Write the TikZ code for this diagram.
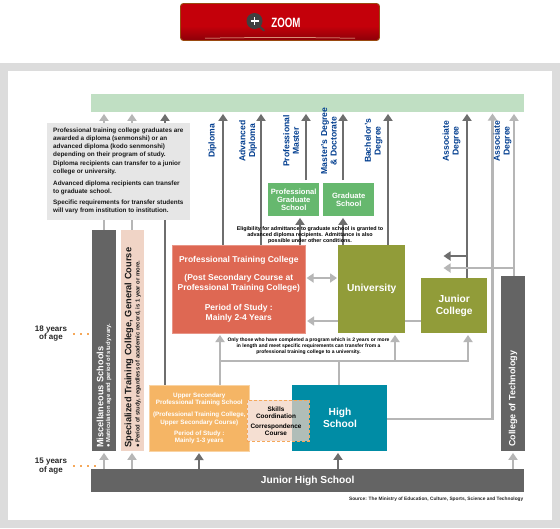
\documentclass[tikz,border=0pt]{standalone}
\usepackage{fontspec}
\usepackage{graphicx}
\setmainfont{Liberation Sans}
\usetikzlibrary{arrows.meta,backgrounds}
\definecolor{framegray}{HTML}{DCDCDC}
\definecolor{arrdark}{HTML}{6E6E6E}
\definecolor{arrlight}{HTML}{B6B6B6}
\definecolor{barmint}{HTML}{C0DFC3}
\definecolor{redbox}{HTML}{DE6853}
\definecolor{olive}{HTML}{919C39}
\definecolor{teal2}{HTML}{008CA5}
\definecolor{orangebox}{HTML}{F5B565}
\definecolor{peach}{HTML}{F0D4C6}
\definecolor{skillpeach}{HTML}{F5DFD2}
\definecolor{overlap}{HTML}{B0BDB8}
\definecolor{darkbar}{HTML}{646464}
\definecolor{greenbox}{HTML}{66B86E}
\definecolor{notegray}{HTML}{E6E6E6}
\definecolor{blue2}{HTML}{003D8F}
\definecolor{dotorange}{HTML}{F5A85A}
\definecolor{btnred}{HTML}{C4000A}
\definecolor{btndark}{HTML}{8E0008}
\definecolor{btnedge}{HTML}{9A4A10}
\pgfdeclarelayer{frame}
\pgfdeclarelayer{lines}
\pgfsetlayers{frame,lines,main}
\tikzset{
 box/.style={rectangle,anchor=north west,inner sep=0pt,align=center,font=\bfseries},
 arrD/.style={draw=arrdark,line width=2.4pt,-{Triangle[width=9pt,length=7pt]},shorten >=1.5pt},
 arrL/.style={draw=arrlight,line width=2.4pt,-{Triangle[width=9pt,length=7pt]},shorten >=1.5pt},
 arrLL/.style={draw=arrlight,line width=2.4pt,{Triangle[width=9pt,length=7pt]}-{Triangle[width=9pt,length=7pt]},shorten >=1pt,shorten <=1pt},
 lineL/.style={draw=arrlight,line width=2.4pt},
 deg/.style={rotate=90,text=blue2,align=center,inner sep=0pt,font=\fontsize{8.6}{9.6}\selectfont\bfseries},
 small/.style={align=center,inner sep=0pt,text=black,font=\fontsize{5.4}{6.2}\selectfont\bfseries},
 age/.style={align=center,inner sep=0pt,text=black!85,font=\fontsize{8}{8.6}\selectfont\bfseries},
 dots/.style={draw=dotorange,line width=1.6pt,dash pattern=on 1.6pt off 5.4pt},
}
\begin{document}
\begin{tikzpicture}[x=1pt,y=-1pt]
\useasboundingbox (0,0) rectangle (560,528);
% frame
\begin{pgfonlayer}{frame}
\fill[white] (0,0) rectangle (560,528);
\fill[framegray] (0,62.5) rectangle (560,528);
\fill[white] (8,70.5) rectangle (552,520);
\end{pgfonlayer}
% button
\fill[btnred,rounded corners=3pt] (180.5,3.5) rectangle (379.5,40.5);
\shade[top color=btnred,bottom color=btndark] (181.5,26) rectangle (378.5,39.8);
\draw[draw=btnedge,rounded corners=3pt,line width=.9pt] (180.5,3.5) rectangle (379.5,40.5);
\draw[white!70!orange,line width=.5pt] (205,38.2) .. controls (260,37.4) and (300,37.4) .. (355,38.2);
\draw[line width=2pt,draw=black!75,line cap=round] (258,25) -- (264,30.5);
\fill[black!75] (254.5,21) circle (8);
\draw[white,line width=1.3pt] (250.5,21) -- (258.5,21) (254.5,17) -- (254.5,25);
\node[inner sep=0pt,text=white] (zoomlabel) at (286,22.5) {\scalebox{.72}[1]{\fontsize{13.5}{14}\selectfont\bfseries ZOOM}};
% boxes
\node[box,fill=barmint,minimum width=432.5pt,minimum height=18pt] (top) at (91,94) {};
\node[box,fill=darkbar,minimum width=24pt,minimum height=221pt] (misc) at (92,230) {};
\node[box,fill=peach,minimum width=23pt,minimum height=221pt] (spec) at (121,230) {};
\node[box,fill=greenbox,text=white,minimum width=51pt,minimum height=33pt,font=\fontsize{7.6}{8.2}\selectfont\bfseries] (pgs) at (268,183) {Professional\\Graduate\\School};
\node[box,fill=greenbox,text=white,minimum width=51pt,minimum height=33pt,font=\fontsize{7.6}{8.2}\selectfont\bfseries] (gs) at (323,183) {Graduate\\School};
\node[box,fill=redbox,draw=redbox!70!white,line width=.6pt,text=white,minimum width=133pt,minimum height=88pt,font=\fontsize{8.5}{9.4}\selectfont\bfseries] (ptc) at (172,245) {Professional Training College\\[8.5pt](Post Secondary Course at\\Professional Training College)\\[11.5pt]Period of Study :\\Mainly 2-4 Years};
\node[box,fill=olive,text=white,minimum width=67pt,minimum height=88pt,font=\fontsize{10.2}{12}\selectfont\bfseries] (univ) at (338,245) {University};
\node[box,fill=olive,text=white,minimum width=66pt,minimum height=55pt,font=\fontsize{10.2}{11.5}\selectfont\bfseries] (jc) at (421,278) {Junior\\College};
\node[box,fill=darkbar,minimum width=24pt,minimum height=175pt] (coltech) at (501,276) {};
\node[box,fill=teal2,minimum width=95pt,minimum height=66pt] (hs) at (292,385) {};
\node[box,fill=orangebox,draw=orangebox!60!white,line width=.6pt,text=white,minimum width=100pt,minimum height=66pt,font=\fontsize{6.3}{7.3}\selectfont\bfseries] (usp) at (149,385) {Upper Secondary\\Professional Training School\\[4.8pt](Professional Training College,\\Upper Secondary Course)\\[3.8pt]Period of Study :\\Mainly 1-3 years};
\fill[skillpeach] (247,400) rectangle (292,441);
\fill[overlap] (292,400) rectangle (309,441);
\node[box,draw=dotorange,densely dashed,line width=.7pt,minimum width=62pt,minimum height=41pt] (skills) at (247,400) {};
\node[inner sep=0pt,align=center,text=black,font=\fontsize{6.4}{7.2}\selectfont\bfseries] (skilltext) at (276,421.5) {Skills\\Coordination\\[2.5pt]Correspondence\\Course};
\node[inner sep=0pt,text=white,align=center,font=\fontsize{10.2}{11.5}\selectfont\bfseries] (hslabel) at (340,418) {High\\School};
\node[box,fill=darkbar,minimum width=433pt,minimum height=23pt,text=white,font=\fontsize{10.2}{12}\selectfont\bfseries] (jhs) at (91,469) {Junior High School};
% note
\node[box,fill=notegray,minimum width=143pt,minimum height=97pt] (note) at (47,123) {};
\node[inner sep=0pt,anchor=north west,align=left,text=black!90,font=\fontsize{6.35}{8.2}\selectfont\bfseries] (notetext) at (53,127.5) {Professional training college graduates are\\awarded a diploma (senmonshi) or an\\advanced diploma (kodo senmonshi)\\depending on their program of study.\\Diploma recipients can transfer to a junior\\college or university.\\[3.6pt]Advanced diploma recipients can transfer\\to graduate school.\\[3.2pt]Specific requirements for transfer students\\will vary from institution to institution.};
% rotated labels
\node[deg] (l1) at (212.5,141) {Diploma};
\node[deg] (l2) at (248,141) {Advanced\\Diploma};
\node[deg] (l3) at (291,141) {Professional\\Master};
\node[deg] (l4) at (329,141) {Master's Degree\\\& Doctorate};
\node[deg] (l5) at (373.5,141) {Bachelor's\\Degree};
\node[deg] (l6) at (451.5,141) {Associate\\Degree};
\node[deg] (l7) at (502.5,141) {Associate\\Degree};
\node[rotate=90,anchor=west,inner sep=0pt,text=white,font=\fontsize{9.2}{11}\selectfont\bfseries] (mt1) at (100,448) {Miscellaneous Schools};
\node[rotate=90,anchor=west,inner sep=0pt,text=white,font=\fontsize{5.85}{6}\selectfont\bfseries] (mt2) at (108.5,448) {● Matriculation age and period of study vary.};
\node[rotate=90,anchor=west,inner sep=0pt,text=black!90,font=\fontsize{9.3}{11}\selectfont\bfseries] (st1) at (129,448) {Specialized Training College, General Course};
\node[rotate=90,anchor=west,inner sep=0pt,text=black!90,font=\fontsize{5.85}{6}\selectfont\bfseries] (st2) at (138,448) {● Period of study, regardless of academic record, is 1 year or more.};
\node[rotate=90,anchor=west,inner sep=0pt,text=white,font=\fontsize{9}{10}\selectfont\bfseries] (ct) at (513,447) {College of Technology};
% small texts
\node[small] (elig) at (310,235) {Eligibility for admittance to graduate school is granted to\\advanced diploma recipients. Admittance is also\\possible under other conditions.};
\node[small,font=\fontsize{5}{6.2}\selectfont\bfseries] (only) at (308.5,346) {Only those who have completed a program which is 2 years or more\\in length and meet specific requirements can transfer from a\\professional training college to a university.};
\node[anchor=east,inner sep=0pt,text=black!85,font=\fontsize{4.8}{5.5}\selectfont\bfseries] (source) at (523.5,499) {Source: The Ministry of Education, Culture, Sports, Science and Technology};
\node[age] (a18) at (51,333.5) {18 years\\of age};
\node[age] (a15) at (51,466) {15 years\\of age};
\coordinate (d18s) at (73,334);
\coordinate (d18e) at (90,334);
\coordinate (d15s) at (73,466);
\coordinate (d15e) at (97,466);
\draw[dots] (d18s) -- (d18e);
\draw[dots] (d15s) -- (d15e);
% connectors
\begin{pgfonlayer}{lines}
\draw[arrL] (104,0 |- misc.north) -- (104,0 |- top.south);
\draw[arrL] (132,0 |- spec.north) -- (132,0 |- top.south);
\draw[arrD] (165,0 |- usp.north) -- (165,0 |- top.south);
\draw[arrD] (223,0 |- ptc.north) -- (223,0 |- top.south);
\draw[arrD] (261,0 |- ptc.north) -- (261,0 |- top.south);
\draw[arrD] (306,180) -- (306,0 |- top.south);
\draw[arrD] (343,180) -- (343,0 |- top.south);
\draw[arrD] (388,0 |- univ.north) -- (388,0 |- top.south);
\draw[arrD] (467,0 |- jc.north) -- (467,0 |- top.south);
\draw[arrL] (hs.east |- 0,419) -| (492.5,112);
\draw[arrL] (514,0 |- coltech.north) -- (514,0 |- top.south);
\draw[arrD] (467,256) -- (442,256);
\draw[arrL] (514,268) -- (442,268);
\draw[arrD] (300,0 |- ptc.north) -- (300,0 |- pgs.south);
\draw[arrD] (343,0 |- univ.north) -- (343,0 |- gs.south);
\draw[arrLL] (ptc.east |- 0,278) -- (univ.west |- 0,278);
\draw[arrL] (jc.west |- 0,321) -- (ptc.east |- 0,321);
\draw[lineL] (220,361) -- (469.2,361);
\draw[lineL] (339,0 |- hs.north) -- (339,361);
\draw[arrL] (220,0 |- usp.north) -- (220,333.5);
\draw[arrL] (395,361) -- (395,333.5);
\draw[arrL] (468,362) -- (468,333.5);
\draw[arrL] (104,0 |- jhs.north) -- (104,0 |- misc.south);
\draw[arrL] (132,0 |- jhs.north) -- (132,0 |- spec.south);
\draw[arrD] (199,0 |- jhs.north) -- (199,0 |- usp.south);
\draw[arrD] (338,0 |- jhs.north) -- (338,0 |- hs.south);
\draw[arrL] (513,0 |- jhs.north) -- (513,0 |- coltech.south);
\end{pgfonlayer}
\end{tikzpicture}
\end{document}
